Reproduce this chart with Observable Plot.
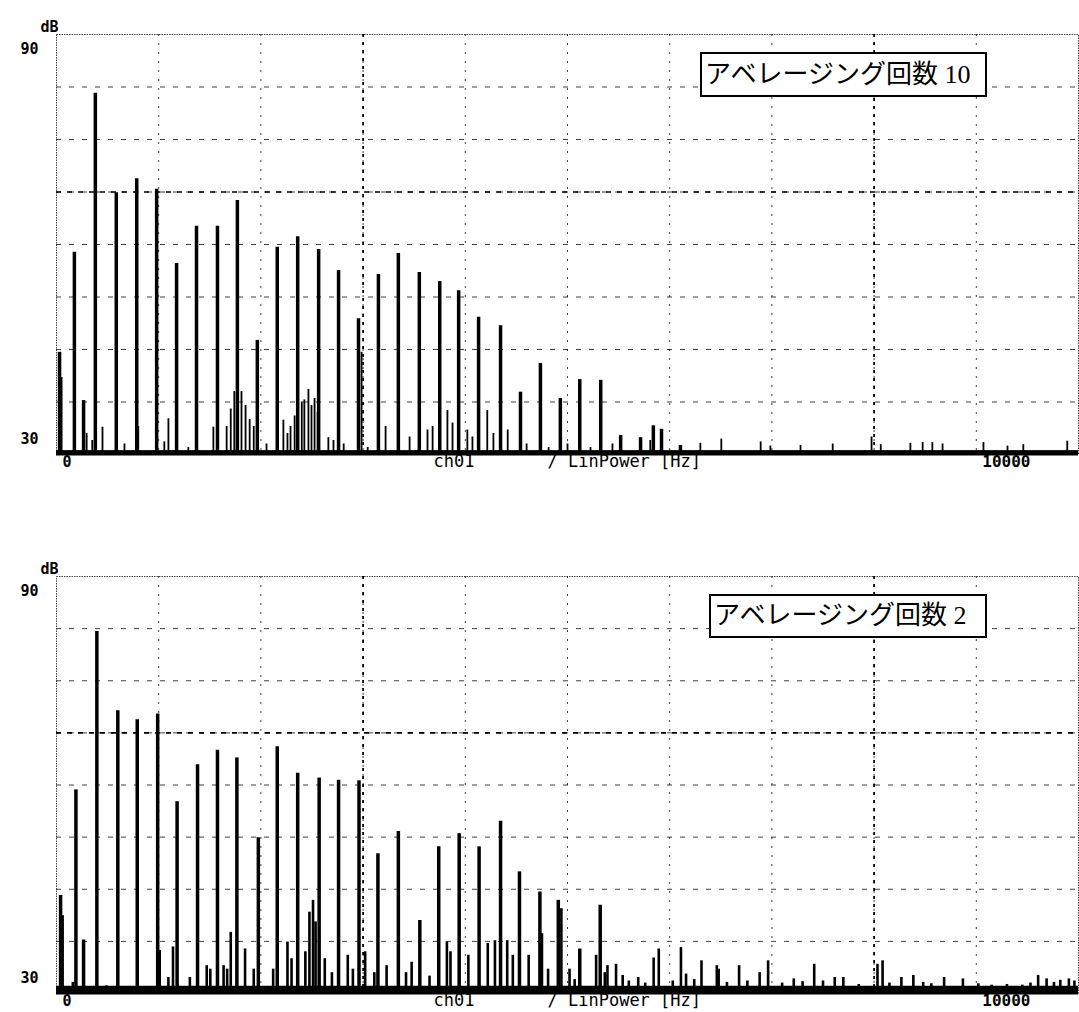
<!DOCTYPE html>
<html>
<head>
<meta charset="utf-8">
<script src="https://cdn.jsdelivr.net/npm/d3@7"></script>
<script src="https://cdn.jsdelivr.net/npm/@observablehq/plot@0.6"></script>
<style>
  html, body { margin: 0; padding: 0; background: #fff; }
  .panel { position: relative; width: 1079px; }
  .panel svg { display: block; }
  .tag {
    position: absolute;
    box-sizing: border-box;
    border: 2px solid #000;
    background: #fff;
    font-family: "Liberation Serif", "Noto Sans CJK JP", serif;
    font-size: 26px;
    line-height: 1;
    color: #000;
    display: flex;
    align-items: center;
    padding-left: 3px;
    white-space: nowrap;
  }
</style>
</head>
<body>
<div id="chart"></div>
<script>
// Power spectrum, 0–10 kHz, level in dB (30–90)
const xGridHz = [1000, 2000, 3000, 4000, 5000, 6000, 7000, 8000, 9000];
const yGridDb = [37.5, 45, 52.5, 60, 67.5, 75, 82.5];
const xHeavyHz = [3000, 8000];
const yHeavyDb = [67.5];

// Averaging count 10: harmonic peaks
const avg10PeakHz = [30, 175, 265, 380, 585, 785, 980, 1175, 1370, 1575, 1770, 1965, 2160, 2360, 2565, 2760, 2955, 3150, 3345, 3550, 3750, 3935, 4130, 4345, 4540, 4735, 4930, 5120, 5325, 5520, 5715, 5840, 5920, 6105];
const avg10PeakDb = [44.6, 58.9, 37.7, 81.6, 67.4, 69.4, 67.9, 57.3, 62.6, 62.6, 66.3, 46.3, 59.6, 61.1, 59.3, 56.3, 49.4, 55.7, 58.7, 56.0, 54.7, 53.4, 49.6, 48.4, 38.9, 43.0, 38.0, 40.7, 40.6, 32.7, 32.4, 34.1, 33.6, 31.3];
// Averaging count 10: residual noise components
const avg10NoiseHz = [50, 295, 350, 450, 665, 800, 1055, 1095, 1290, 1535, 1665, 1705, 1740, 1810, 1850, 1890, 1930, 2055, 2220, 2260, 2290, 2330, 2400, 2425, 2465, 2495, 2525, 2555, 2660, 2710, 2810, 2985, 3045, 3220, 3455, 3630, 3680, 3825, 3875, 4020, 4070, 4215, 4275, 4415, 4600, 4815, 5000, 5225, 5440, 5810, 6300, 6505, 6890, 6985, 7280, 7595, 7975, 8065, 8355, 8475, 8570, 8670, 9070, 9305, 9460, 9890];
const avg10NoiseDb = [41.0, 33.0, 32.0, 33.9, 31.5, 34.0, 31.8, 35.1, 31.0, 33.9, 34.0, 36.5, 39.0, 39.0, 37.0, 35.0, 34.0, 31.5, 34.9, 33.0, 34.0, 35.5, 37.5, 37.8, 39.3, 37.0, 38.0, 36.0, 32.4, 32.0, 31.5, 44.6, 31.0, 34.0, 32.5, 33.5, 34.0, 36.3, 34.5, 33.5, 32.5, 36.3, 33.0, 33.5, 31.5, 31.0, 31.5, 31.0, 31.5, 32.0, 31.6, 32.2, 31.8, 31.2, 31.3, 31.5, 32.5, 31.4, 31.6, 31.7, 31.7, 31.5, 31.7, 31.2, 31.4, 31.9];
const avg10FloorDb = 30.5;

// Averaging count 2: harmonic peaks
const avg2PeakHz = [40, 190, 265, 395, 600, 790, 990, 1180, 1380, 1575, 1765, 1975, 2160, 2360, 2570, 2760, 2960, 3145, 3345, 3555, 3740, 3940, 4135, 4345, 4530, 4730, 4910, 5120, 5320];
const avg2PeakDb = [44.1, 59.3, 37.7, 82.1, 70.7, 69.4, 70.2, 57.6, 62.9, 65.0, 63.9, 52.4, 65.5, 61.7, 61.0, 60.7, 60.6, 50.1, 53.3, 40.5, 51.1, 53.0, 51.1, 54.8, 47.5, 44.6, 43.4, 36.4, 42.7];
// Averaging count 2: residual noise components
const avg2NoiseHz = [60, 160, 490, 1010, 1095, 1140, 1305, 1470, 1505, 1635, 1670, 1705, 1845, 1930, 2120, 2260, 2300, 2435, 2475, 2510, 2535, 2625, 2695, 2850, 2900, 3020, 3110, 3230, 3420, 3475, 3650, 3820, 3855, 4030, 4220, 4290, 4410, 4465, 4620, 4750, 4810, 4940, 5020, 5070, 5280, 5365, 5391, 5475, 5540, 5600, 5692, 5760, 5843, 5893, 6030, 6110, 6160, 6240, 6311, 6461, 6479, 6560, 6679, 6760, 6880, 6963, 7100, 7214, 7300, 7414, 7500, 7615, 7699, 7850, 8033, 8083, 8150, 8267, 8384, 8480, 8560, 8685, 8869, 9020, 9150, 9300, 9450, 9530, 9605, 9688, 9760, 9822, 9906, 9960];
const avg2NoiseDb = [41.2, 31.6, 31.1, 36.2, 32.3, 36.7, 32.3, 34.0, 33.5, 34.0, 33.5, 38.8, 36.4, 33.5, 33.5, 37.4, 35.0, 36.0, 41.7, 43.4, 40.3, 35.0, 33.0, 35.5, 33.5, 36.0, 33.0, 34.0, 33.0, 34.5, 32.5, 37.4, 36.0, 35.5, 37.2, 37.6, 37.6, 35.5, 35.5, 38.6, 33.5, 42.2, 33.5, 32.0, 35.5, 33.0, 34.0, 34.2, 32.6, 31.8, 32.3, 31.5, 35.1, 36.4, 31.8, 36.6, 32.8, 32.0, 34.7, 34.0, 33.5, 31.6, 34.0, 31.8, 33.0, 34.7, 31.5, 32.1, 31.7, 34.2, 31.8, 32.3, 32.3, 31.3, 34.2, 34.7, 31.5, 32.3, 32.6, 31.6, 31.4, 32.3, 32.1, 31.4, 31.2, 31.3, 31.2, 31.5, 32.6, 32.1, 31.6, 31.9, 32.1, 31.8];
const avg2FloorDb = 31.0;

const panels = [
  {title: "アベレージング回数 10", peakHz: avg10PeakHz, peakDb: avg10PeakDb, noiseHz: avg10NoiseHz, noiseDb: avg10NoiseDb, floor: avg10FloorDb,
   offset: 0, height: 480, marginTop: 34, marginBottom: 26, box: {left: 700, top: 52, width: 287, height: 45}, noiseWidth: 1.8},
  {title: "アベレージング回数 2", peakHz: avg2PeakHz, peakDb: avg2PeakDb, noiseHz: avg2NoiseHz, noiseDb: avg2NoiseDb, floor: avg2FloorDb,
   offset: 480, height: 532, marginTop: 96, marginBottom: 19, box: {left: 709, top: 594, width: 278, height: 44}, noiseWidth: 2.6}
];

const mono = "DejaVu Sans Mono, monospace";
const root = document.getElementById("chart");

for (const p of panels) {
  const peaks = p.peakHz.map((hz, i) => ({hz, db: p.peakDb[i]}));
  const noise = p.noiseHz.map((hz, i) => ({hz, db: p.noiseDb[i]}));

  const svg = Plot.plot({
    width: 1079,
    height: p.height,
    marginLeft: 56,
    marginRight: 1,
    marginTop: p.marginTop,
    marginBottom: p.marginBottom,
    x: {domain: [0, 10000], axis: null},
    y: {domain: [30, 90], axis: null},
    style: {background: "#fff", overflow: "visible"},
    marks: [
      Plot.frame({stroke: "#444", strokeWidth: 1, strokeDasharray: "1.5,1"}),
      Plot.ruleY(yGridDb, {stroke: "#000", strokeWidth: 1, strokeDasharray: "5,8", strokeOpacity: 0.75}),
      Plot.ruleY(yHeavyDb, {stroke: "#000", strokeWidth: 1.6, strokeDasharray: "5,6"}),
      Plot.ruleX(xGridHz, {stroke: "#000", strokeWidth: 1, strokeDasharray: "2,7", strokeOpacity: 0.75}),
      Plot.ruleX(xHeavyHz, {stroke: "#000", strokeWidth: 1.8, strokeDasharray: "3,5"}),
      // noise floor band, spanning the full frequency range
      Plot.rect([p.floor], {y1: 30, y2: (d) => d, fill: "#000"}),
      Plot.ruleY([p.floor], {stroke: "#000", strokeWidth: 1.5}),
      // residual noise components
      Plot.ruleX(noise, {x: "hz", y1: 30, y2: "db", stroke: "#000", strokeWidth: p.noiseWidth}),
      // harmonic peaks
      Plot.ruleX(peaks, {x: "hz", y1: 30, y2: "db", stroke: "#000", strokeWidth: 3.5}),
      // baseline
      Plot.ruleY([30], {stroke: "#000", strokeWidth: 2}),
      // axis annotations
      Plot.text(["dB"], {frameAnchor: "top-left", dx: -16, dy: -13, fontFamily: mono, fontWeight: "bold", fontSize: 15, fill: "#000"}),
      Plot.text(["90"], {frameAnchor: "top-left", dx: -36, dy: 9, fontFamily: mono, fontWeight: "bold", fontSize: 15, fill: "#000"}),
      Plot.text(["30"], {frameAnchor: "bottom-left", dx: -36, dy: -11, fontFamily: mono, fontWeight: "bold", fontSize: 15, fill: "#000"}),
      Plot.text(["0"], {frameAnchor: "bottom-left", dx: 6, dy: 12, fontFamily: mono, fontWeight: "bold", fontSize: 15, fill: "#000"}),
      Plot.text(["ch01"], {frameAnchor: "bottom-left", dx: 377, dy: 12, fontFamily: mono, fontSize: 17, fill: "#000"}),
      Plot.text(["/ LinPower [Hz]"], {frameAnchor: "bottom-left", dx: 491, dy: 12, textAnchor: "start", fontFamily: mono, fontSize: 17, fill: "#000"}),
      Plot.text(["10000"], {frameAnchor: "bottom-right", dx: -48, dy: 12, fontFamily: mono, fontWeight: "bold", fontSize: 16, fill: "#000"})
    ]
  });

  const wrap = document.createElement("div");
  wrap.className = "panel";
  wrap.appendChild(svg);
  const tag = document.createElement("div");
  tag.className = "tag";
  tag.textContent = p.title;
  tag.style.left = p.box.left + "px";
  tag.style.top = (p.box.top - p.offset) + "px";
  tag.style.width = p.box.width + "px";
  tag.style.height = p.box.height + "px";
  wrap.appendChild(tag);
  root.appendChild(wrap);
}
</script>
</body>
</html>
